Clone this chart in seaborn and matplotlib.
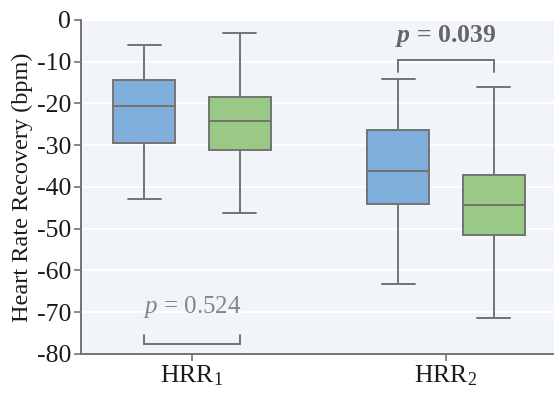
import numpy as np
import pandas as pd
import matplotlib
matplotlib.use("Agg")
import matplotlib.pyplot as plt
import seaborn as sns

# ---- data ----
measures = ["HRR1", "HRR2"]
tick_labels = [r"HRR$_1$", r"HRR$_2$"]
groups = ["A", "B"]
# five-number summaries: [min, Q1, median, Q3, max]
hrr1_a = [-43.0, -29.5, -20.6, -14.4, -6.0]
hrr1_b = [-46.2, -31.1, -24.2, -18.4, -3.1]
hrr2_a = [-63.2, -44.1, -36.2, -26.3, -14.1]
hrr2_b = [-71.4, -51.5, -44.3, -37.1, -16.0]
p_labels = ["0.524", "0.039"]

rows = []
for m, a, b in [("HRR1", hrr1_a, hrr1_b), ("HRR2", hrr2_a, hrr2_b)]:
    for v in a:
        rows.append((m, "A", v))
    for v in b:
        rows.append((m, "B", v))
df = pd.DataFrame(rows, columns=["measure", "group", "value"])

sns.set_theme(style="white")
plt.rcParams["font.family"] = ["Liberation Serif", "DejaVu Serif"]
plt.rcParams["axes.unicode_minus"] = False
plt.rcParams["mathtext.fontset"] = "custom"
plt.rcParams["mathtext.rm"] = "Liberation Serif"
plt.rcParams["mathtext.it"] = "Liberation Serif:italic"
plt.rcParams["mathtext.bf"] = "Liberation Serif:bold"
plt.rcParams["mathtext.bfit"] = "Liberation Serif:italic:bold"

fig = plt.figure(figsize=(5.54, 3.99), dpi=100)
ax = fig.add_axes([0.146, 0.113, 0.854, 0.837])
ax.set_facecolor("#F1F4F8")

edge = "#737373"
sns.boxplot(data=df, x="measure", y="value", hue="group", order=measures,
            hue_order=groups, palette=["#80AEDB", "#9AC985"], saturation=1,
            whis=(0, 100), width=0.75, gap=0.35, linewidth=1.4,
            linecolor=edge, ax=ax, legend=False,
            capwidths=0.13, zorder=3)

ax.set_ylim(-80, 0)
ax.set_xlim(-0.437, 0.425 + 1)
ax.set_yticks(np.arange(-80, 1, 10))
ax.yaxis.grid(True, color="white", linewidth=1.5, zorder=0)
ax.set_axisbelow(True)
ax.set_xticks([0, 1])
ax.set_xticklabels(tick_labels)
ax.set_xlabel("")
ax.set_ylabel("Heart Rate Recovery (bpm)", fontsize=17.5, color="#1a1a1a", labelpad=3)
ax.tick_params(axis="both", labelsize=18.5, colors="#1a1a1a", length=5, width=1.2,
               color=edge, pad=2, direction="out", left=True, bottom=True)
for s in ["top", "right"]:
    ax.spines[s].set_visible(False)
for s in ["left", "bottom"]:
    ax.spines[s].set_color(edge)
    ax.spines[s].set_linewidth(1.4)

# annotations
off = 0.1875
# HRR1 bracket (below)
ax.plot([0 - off, 0 - off, 0 + off, 0 + off], [-75.4, -77.6, -77.6, -75.4],
        color=edge, lw=1.4, solid_joinstyle="miter", clip_on=False)
ax.text(0, -70.3, r"$p$ = " + p_labels[0], ha="center", va="baseline",
        fontsize=18, color="#858585")
# HRR2 bracket (above)
ax.plot([1 - off, 1 - off, 1 + off, 1 + off], [-12.5, -9.6, -9.6, -12.5],
        color=edge, lw=1.4, solid_joinstyle="miter", clip_on=False)
ax.text(1, -5.3, r"$\mathbfit{p}$ = " + p_labels[1], ha="center", va="baseline",
        fontsize=18.5, color="#666666", fontweight="bold")

fig.savefig("out.png", dpi=100)
